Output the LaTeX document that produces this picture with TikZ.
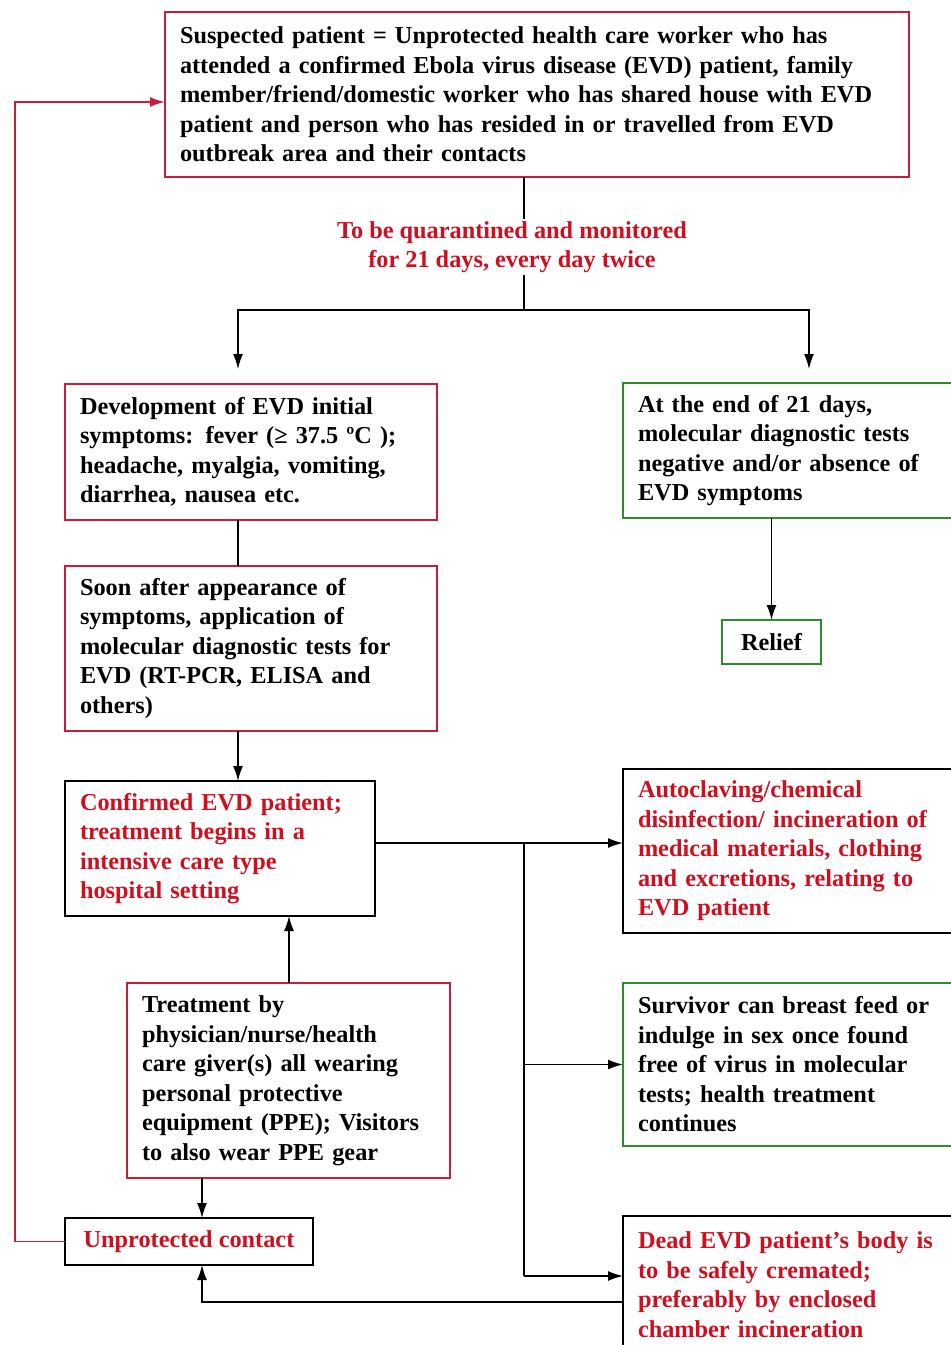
\documentclass[tikz,border=0pt]{standalone}
\usepackage{fontspec}
\setmainfont{Liberation Serif}
\usetikzlibrary{arrows.meta,calc}
\definecolor{redtxt}{RGB}{208,14,30}
\definecolor{redln}{RGB}{200,30,60}
\definecolor{greenln}{RGB}{45,140,45}
\begin{document}
\begin{tikzpicture}[x=1pt,y=-1pt,
  every node/.style={font=\fontsize{24.3}{29.5}\selectfont\bfseries, outer sep=0pt},
  box/.style={draw, line width=1.6pt, inner xsep=15pt, inner ysep=4pt, align=left, anchor=north west},
  rbox/.style={box, draw=redln},
  gbox/.style={box, draw=greenln},
  kbox/.style={box, draw=black, text=redtxt},
  ln/.style={line width=1.5pt},
  arr/.style={ln, -{Latex[length=15pt,width=10pt]}},
]
\useasboundingbox (0,0) rectangle (951,1345);
\clip (0,0) rectangle (951,1345);

\node[rbox, text width=714, minimum height=165] (top) at (165,12)
 {Suspected patient = Unprotected health care worker who has\\
  attended a confirmed Ebola virus disease (EVD) patient, family\\
  member/friend/domestic worker who has shared house with EVD\\
  patient and person who has resided in or travelled from EVD\\
  outbreak area and their contacts};

\node[text=redtxt, fill=white, align=center, inner sep=2pt] (lab) at (512,247)
 {To be quarantined and monitored\\ for 21 days, every day twice};

\node[rbox, text width=342, minimum height=136] (A) at (65,384)
 {Development of EVD initial\\ symptoms: fever (≥ 37.5 ºC );\\ headache, myalgia, vomiting,\\ diarrhea, nausea etc.};

\node[gbox, text width=310, minimum height=135] (B) at (623,383)
 {At the end of 21 days,\\ molecular diagnostic tests\\ negative and/or absence of\\ EVD symptoms};

\node[rbox, text width=342, minimum height=165] (C) at (65,566)
 {Soon after appearance of\\ symptoms, application of\\ molecular diagnostic tests for\\ EVD (RT-PCR, ELISA and\\ others)};

\node[gbox, minimum width=99, minimum height=44, align=center, inner xsep=4pt] (R) at (722,620) {Relief};

\node[kbox, text width=280, minimum height=135] (D) at (65,781)
 {Confirmed EVD patient;\\ treatment begins in a\\ intensive care type\\ hospital setting};

\node[kbox, text width=310, minimum height=164] (E) at (623,769)
 {Autoclaving/chemical\\ disinfection/ incineration of\\ medical materials, clothing\\ and excretions, relating to\\ EVD patient};

\node[gbox, text width=310, minimum height=163] (F) at (623,983)
 {Survivor can breast feed or\\ indulge in sex once found\\ free of virus in molecular\\ tests; health treatment\\ continues};

\node[kbox, text width=310, minimum height=137] (G) at (623,1216)
 {Dead EVD patient’s body is\\ to be safely cremated;\\ preferably by enclosed\\ chamber incineration};

\node[rbox, text width=293, minimum height=195] (H) at (127,983)
 {Treatment by\\ physician/nurse/health\\ care giver(s) all wearing\\ personal protective\\ equipment (PPE); Visitors\\ to also wear PPE gear};

\node[kbox, minimum width=248, minimum height=47] (I) at (65,1218) {Unprotected contact};

\coordinate (cTop) at (524,0);
\coordinate (split) at (524,310);
\coordinate (colA) at (238,0);
\coordinate (colB) at (809,0);
\coordinate (tipY) at (0,369);
\coordinate (colH) at (289,0);
\coordinate (colI) at (202,0);
\coordinate (bus) at (524,843);
\coordinate (gA) at (0,1276);
\coordinate (gB) at (0,1302);
\coordinate (loopX) at (15,0);
\coordinate (loopY) at (0,102);

\draw[ln] (top.south -| cTop) -- (lab.north -| cTop);
\draw[ln] (lab.south -| cTop) -- (split);
\draw[arr] (split) -| (colA |- tipY);
\draw[arr] (split) -| (colB |- tipY);
\draw[ln] (A.south -| colA) -- (C.north -| colA);
\draw[arr] (C.south -| colA) -- (D.north -| colA);
\draw[arr] (B.south -| R.north) -- (R.north);
\draw[arr] (D.east |- bus) -- (E.west |- bus);
\draw[ln] (bus) -- (bus |- gA);
\draw[arr] (bus |- F.west) -- (F.west);
\draw[arr] (bus |- gA) -- (G.west |- gA);
\draw[arr] (H.north -| colH) -- (D.south -| colH);
\draw[arr] (H.south -| colI) -- (I.north -| colI);
\draw[arr] (G.west |- gB) -| (I.south -| colI);
\draw[arr, draw=redln, line width=1.8pt] (I.west) -- (I.west -| loopX) |- (top.west |- loopY);
\end{tikzpicture}
\end{document}
